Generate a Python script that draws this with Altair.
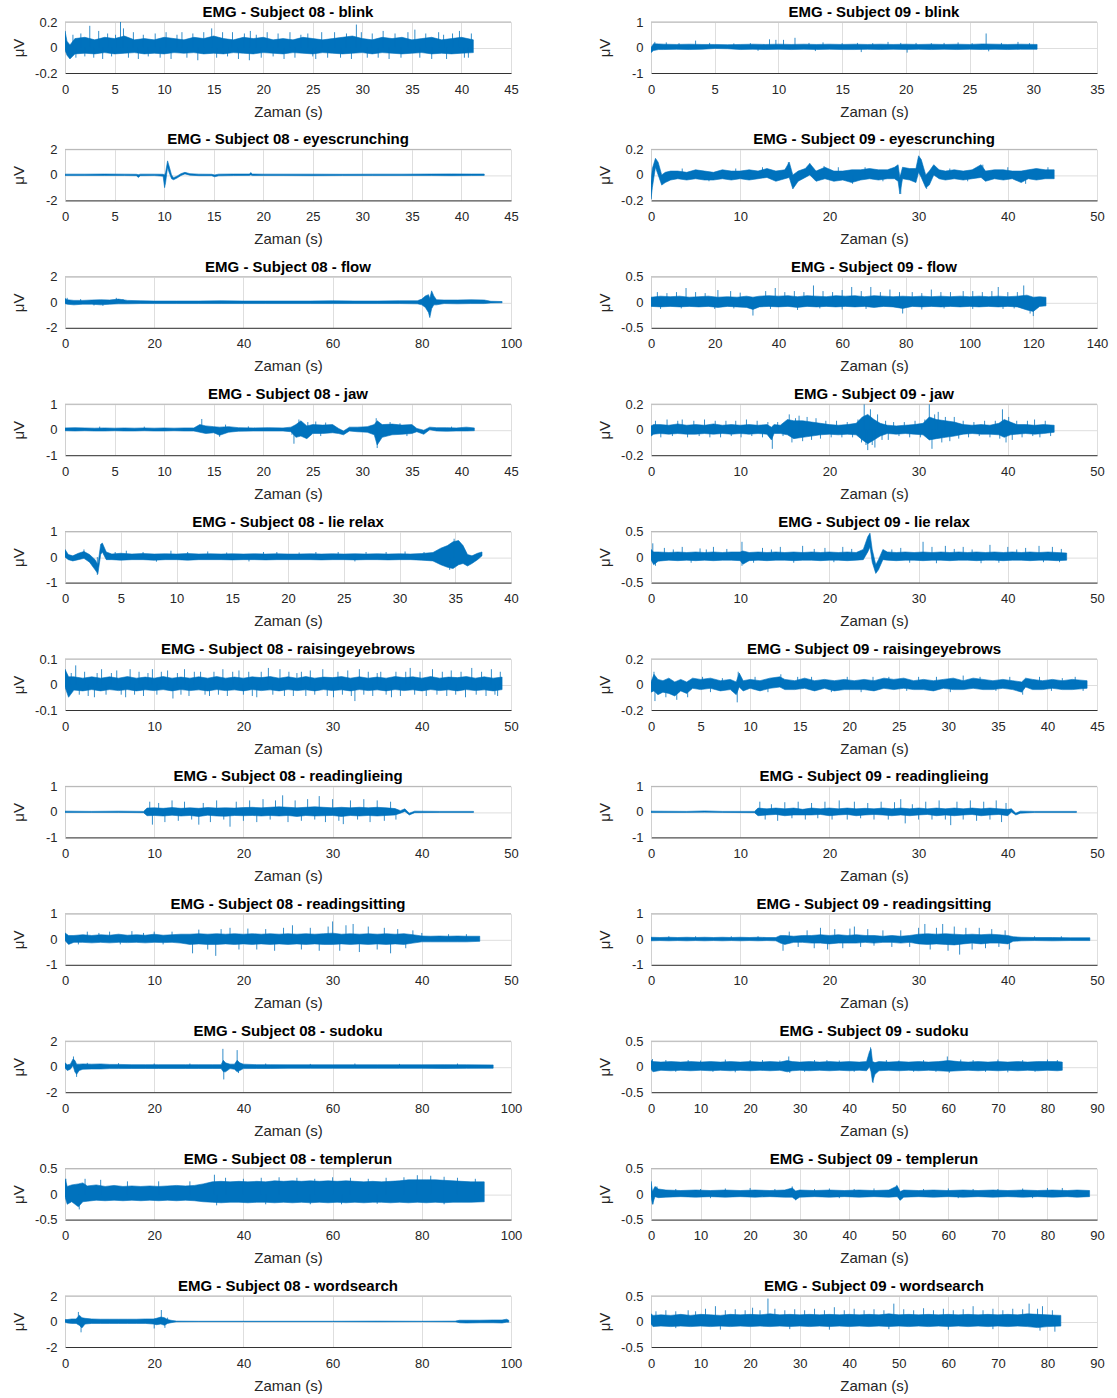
import altair as alt
import pandas as pd

BLUE = "#0072BD"
PLOT_W, PLOT_H = 446, 51

# Signal envelopes per recording: (time s, upper µV, lower µV)
# and isolated spikes: (time s, peak µV)

S08_BLINK = [(0, 0.13, -0.02), (0.2, 0.05, -0.06), (0.5, 0.02, -0.09), (1, 0.07, -0.05), (2, 0.08, -0.045),
             (3, 0.06, -0.05), (4, 0.08, -0.04), (5, 0.07, -0.05), (6, 0.09, -0.045), (7, 0.06, -0.04),
             (8, 0.07, -0.05), (9, 0.06, -0.045), (10, 0.08, -0.05), (11, 0.07, -0.04), (12, 0.06, -0.045),
             (13, 0.08, -0.04), (14, 0.07, -0.05), (15, 0.09, -0.045), (16, 0.07, -0.05), (17, 0.06, -0.04),
             (18, 0.08, -0.045), (19, 0.07, -0.05), (20, 0.08, -0.04), (21, 0.06, -0.045), (22, 0.07, -0.05),
             (23, 0.06, -0.04), (24, 0.08, -0.045), (25, 0.07, -0.05), (26, 0.06, -0.04), (27, 0.07, -0.045),
             (28, 0.08, -0.05), (29, 0.09, -0.045), (30, 0.07, -0.04), (31, 0.06, -0.05), (32, 0.08, -0.04),
             (33, 0.07, -0.045), (34, 0.08, -0.05), (35, 0.06, -0.045), (36, 0.07, -0.04), (37, 0.08, -0.05),
             (38, 0.06, -0.045), (39, 0.07, -0.05), (40, 0.08, -0.045), (41.2, 0.06, -0.04)]
S08_BLINK_SPIKES = [(0.8, 0.1), (1.1, -0.08), (1.6, 0.11), (2.0, -0.07), (2.5, 0.17), (2.9, -0.08), (3.4, 0.13),
                    (3.8, -0.09), (4.3, 0.11), (4.7, -0.07), (5.1, 0.1), (5.6, 0.2), (5.9, 0.15), (6.4, -0.08),
                    (6.9, 0.12), (7.4, -0.09), (7.9, 0.1), (8.4, -0.07), (9.1, 0.11), (9.6, -0.08), (10.2, 0.12),
                    (10.7, -0.09), (11.3, 0.1), (11.8, 0.12), (12.3, -0.08), (12.9, 0.11), (13.4, -0.1),
                    (14.0, 0.12), (14.8, 0.15), (15.3, -0.08), (15.9, 0.12), (16.4, -0.07), (16.9, 0.12),
                    (17.5, -0.09), (18.1, 0.11), (18.6, -0.1), (18.7, 0.13), (19.3, 0.1), (19.8, -0.08),
                    (20.4, 0.12), (21.0, -0.07), (21.5, 0.11), (22.1, -0.09), (22.7, 0.12), (23.2, -0.08),
                    (23.8, 0.1), (24.5, 0.11), (25.0, -0.07), (25.3, -0.09), (25.9, 0.12), (26.5, -0.08),
                    (27.2, 0.12), (27.8, -0.08), (28.4, 0.11), (28.9, -0.09), (29.4, 0.18), (29.9, 0.12),
                    (30.5, -0.08), (31.0, 0.11), (31.6, -0.08), (32.1, 0.13), (32.7, -0.09), (33.3, 0.11),
                    (33.9, -0.08), (34.6, 0.12), (35.3, 0.14), (35.8, -0.08), (36.4, 0.11), (37.0, -0.09),
                    (37.7, 0.12), (38.2, 0.1), (38.5, -0.09), (39.1, 0.11), (39.8, 0.13), (40.3, -0.08),
                    (40.7, -0.08), (41.0, 0.11)]

S09_BLINK = [(0, 0.0, -0.2), (0.2, 0.15, -0.12), (0.6, 0.14, -0.08), (1, 0.13, -0.08), (2, 0.12, -0.07),
             (3, 0.13, -0.08), (4, 0.12, -0.07), (5, 0.12, -0.04), (6, 0.11, -0.05), (7, 0.12, -0.08),
             (8, 0.13, -0.07), (9, 0.12, -0.08), (10, 0.13, -0.07), (11, 0.12, -0.08), (12, 0.13, -0.07),
             (13, 0.12, -0.08), (14, 0.13, -0.07), (15, 0.12, -0.08), (16, 0.13, -0.08), (17, 0.12, -0.07),
             (18, 0.13, -0.08), (19, 0.12, -0.07), (20, 0.13, -0.08), (21, 0.12, -0.07), (22, 0.13, -0.08),
             (23, 0.12, -0.07), (24, 0.13, -0.08), (25, 0.12, -0.07), (26, 0.14, -0.08), (27, 0.13, -0.07),
             (28, 0.12, -0.08), (29, 0.13, -0.07), (30.3, 0.12, -0.07)]
S09_BLINK_SPIKES = [(0.3, 0.22), (1.2, 0.2), (2.2, 0.17), (3.5, 0.27), (4.6, 0.18), (6.5, 0.16), (7.8, 0.17),
                    (9.3, 0.32), (9.8, 0.3), (10.4, 0.3), (11.3, 0.38), (12.4, 0.18), (13.5, 0.2), (15.0, 0.17),
                    (16.2, 0.18), (17.4, 0.17), (18.6, 0.22), (19.6, 0.18), (20.8, 0.18), (22.0, 0.17),
                    (23.0, 0.18), (24.1, 0.2), (25.2, 0.17), (26.3, 0.55), (27.5, 0.18), (28.8, 0.22),
                    (29.7, 0.17), (16.5, -0.18), (20.1, -0.2), (26.5, -0.15), (8.4, -0.13), (12.9, -0.14)]

S08_EYES = [(0, 0.06, -0.05), (2, 0.06, -0.05), (4, 0.07, -0.05), (6, 0.06, -0.05), (7.2, 0.05, -0.06),
            (7.4, 0.02, -0.2), (7.6, 0.06, -0.06), (9, 0.06, -0.05), (9.9, 0.05, -0.1), (10.05, 0.0, -1.0),
            (10.15, 0.2, -0.6), (10.35, 1.1, 0.6), (10.5, 0.7, 0.2), (10.75, 0.0, -0.3), (10.95, -0.22, -0.38),
            (11.3, -0.1, -0.25), (11.7, 0.1, -0.05), (12.1, 0.2, 0.08), (12.6, 0.1, -0.02), (13.5, 0.06, -0.06),
            (14.8, 0.05, -0.06), (15.1, 0.0, -0.15), (15.5, 0.06, -0.07), (17, 0.07, -0.05), (18.6, 0.07, -0.04),
            (18.75, 0.18, 0.0), (18.9, 0.07, -0.05), (20, 0.06, -0.05), (22, 0.06, -0.05), (25, 0.06, -0.06),
            (28, 0.05, -0.05), (31, 0.06, -0.05), (34, 0.06, -0.05), (37, 0.07, -0.05), (39, 0.08, -0.06),
            (41, 0.07, -0.05), (42.3, 0.07, -0.04)]
S08_EYES_SPIKES = []

S09_EYES = [(0, -0.05, -0.19), (0.15, 0.05, -0.1), (0.5, 0.13, 0.06), (0.8, 0.1, 0.0), (1.2, 0.0, -0.08),
            (1.6, 0.02, -0.06), (2.2, 0.03, -0.04), (3, 0.03, -0.03), (4, 0.02, -0.04), (5, 0.04, -0.03),
            (6, 0.03, -0.04), (7, 0.02, -0.04), (8, 0.04, -0.03), (9, 0.03, -0.04), (10, 0.03, -0.03),
            (11, 0.04, -0.04), (12, 0.03, -0.03), (13, 0.05, -0.02), (14, 0.03, -0.05), (15, 0.04, -0.03),
            (15.5, 0.1, -0.02), (15.9, 0.0, -0.11), (16.5, 0.03, -0.05), (17.3, 0.05, -0.02), (17.8, 0.09, 0.0),
            (18.5, 0.03, -0.05), (19.5, 0.06, -0.03), (20.5, 0.03, -0.05), (21.5, 0.03, -0.04), (22.5, 0.04, -0.06),
            (23.5, 0.04, -0.04), (24.5, 0.05, -0.03), (25.5, 0.04, -0.04), (26.5, 0.04, -0.03), (27.3, 0.06, -0.03),
            (27.7, 0.08, -0.05), (27.9, -0.02, -0.15), (28.2, 0.06, -0.03), (29, 0.05, -0.04), (29.7, 0.05, -0.06),
            (30.0, 0.15, 0.02), (30.3, 0.12, -0.02), (30.8, 0.0, -0.1), (31.2, 0.03, -0.08), (31.7, 0.08, 0.0),
            (32.3, 0.04, -0.03), (33, 0.03, -0.04), (34, 0.04, -0.03), (35, 0.03, -0.04), (36, 0.04, -0.03),
            (37, 0.08, -0.02), (37.5, 0.03, -0.05), (38.5, 0.04, -0.03), (39.5, 0.04, -0.04), (40.5, 0.03, -0.03),
            (41.5, 0.03, -0.06), (42.3, 0.04, -0.03), (43.2, 0.05, -0.04), (44.2, 0.04, -0.03), (45.2, 0.04, -0.03)]
S09_EYES_SPIKES = [(15.4, 0.1), (17.8, 0.09), (22.6, -0.07), (37.2, 0.08), (42, -0.07), (19.4, 0.07),
                   (28.0, -0.15), (30.9, -0.11), (3.5, 0.05), (6.5, -0.05), (9.5, 0.05), (12.5, 0.06),
                   (21.0, 0.06), (24.0, 0.06), (26.0, -0.05), (33.5, 0.05), (35.5, -0.05), (40.0, 0.06),
                   (44.5, 0.06)]

S08_FLOW = [(0, 0.3, -0.1), (0.5, 0.2, -0.15), (2, 0.15, -0.2), (4, 0.15, -0.15), (6, 0.18, -0.15), (8, 0.2, -0.2),
            (10, 0.18, -0.15), (12, 0.25, -0.12), (14, 0.15, -0.12), (17, 0.12, -0.1), (20, 0.1, -0.1),
            (25, 0.1, -0.1), (30, 0.1, -0.1), (35, 0.12, -0.1), (40, 0.1, -0.1), (45, 0.1, -0.1), (50, 0.1, -0.1),
            (55, 0.1, -0.1), (60, 0.12, -0.1), (65, 0.1, -0.1), (70, 0.1, -0.1), (75, 0.12, -0.1), (79, 0.12, -0.12),
            (80, 0.25, -0.2), (80.8, 0.5, -0.4), (81.5, 0.6, -0.8), (81.8, 0.3, -1.2), (82.2, 0.9, -0.5),
            (82.7, 0.5, -0.2), (83.3, 0.2, -0.2), (85, 0.18, -0.1), (88, 0.18, -0.12), (91, 0.2, -0.1),
            (94, 0.18, -0.1), (95.5, 0.08, -0.05), (98, 0.06, -0.04)]
S08_FLOW_SPIKES = [(0.5, 0.35), (11.5, 0.35), (8.5, -0.28), (3.5, 0.25), (6.5, -0.25), (13.0, 0.25)]

S09_FLOW = [(0, 0.1, -0.08), (3, 0.12, -0.09), (6, 0.11, -0.08), (9, 0.12, -0.09), (12, 0.1, -0.08),
            (15, 0.11, -0.09), (18, 0.12, -0.08), (21, 0.1, -0.1), (24, 0.11, -0.08), (27, 0.1, -0.09),
            (30, 0.12, -0.1), (32, 0.1, -0.14), (34, 0.12, -0.09), (37, 0.13, -0.08), (40, 0.12, -0.09),
            (43, 0.13, -0.08), (46, 0.11, -0.1), (49, 0.13, -0.08), (52, 0.12, -0.09), (55, 0.11, -0.08),
            (58, 0.13, -0.09), (61, 0.12, -0.08), (64, 0.13, -0.09), (67, 0.11, -0.08), (70, 0.13, -0.1),
            (73, 0.12, -0.08), (76, 0.11, -0.09), (79, 0.12, -0.12), (82, 0.11, -0.08), (85, 0.12, -0.09),
            (88, 0.11, -0.08), (91, 0.12, -0.09), (94, 0.11, -0.08), (97, 0.12, -0.09), (100, 0.11, -0.08),
            (103, 0.12, -0.09), (106, 0.11, -0.08), (109, 0.12, -0.09), (112, 0.11, -0.08), (115, 0.12, -0.09),
            (118, 0.14, -0.15), (120, 0.1, -0.18), (122, 0.11, -0.08), (124, 0.1, -0.07)]
S09_FLOW_SPIKES = [(2, 0.2), (5, 0.18), (8, 0.2), (11, 0.28), (14, 0.2), (17, 0.18), (21, 0.24), (25, 0.22),
                   (28, 0.19), (32, -0.26), (36, 0.22), (39, 0.28), (42, 0.2), (45, 0.22), (48, 0.2), (51, 0.33),
                   (54, 0.22), (57, 0.2), (60, 0.24), (63, 0.3), (66, 0.22), (69, 0.3), (72, 0.2), (75, 0.25),
                   (78, 0.2), (79, -0.22), (82, 0.2), (85, 0.18), (88, 0.25), (91, 0.2), (94, 0.2), (98, 0.22),
                   (101, 0.22), (104, 0.2), (107, 0.22), (109, 0.3), (112, 0.2), (115, 0.2), (117, 0.33),
                   (119, -0.22), (120, -0.27), (3, -0.13), (46, -0.15), (60, -0.14), (85, -0.14), (101, -0.13),
                   (20, -0.13), (9.5, -0.12), (26, -0.12), (37.5, -0.13), (53, -0.12), (67.5, -0.13), (92, -0.12),
                   (110.5, -0.13), (114, -0.12)]

S08_JAW = [(0, 0.07, -0.04), (1, 0.08, -0.05), (2, 0.07, -0.04), (3, 0.06, -0.05), (4, 0.07, -0.05), (5, 0.06, -0.04),
           (6, 0.07, -0.05), (7, 0.06, -0.05), (8, 0.07, -0.04), (9, 0.06, -0.05), (10, 0.07, -0.05),
           (11, 0.06, -0.04), (12, 0.07, -0.05), (13, 0.07, -0.05), (13.6, 0.2, -0.1), (14.2, 0.15, -0.15),
           (15, 0.12, -0.12), (15.6, 0.1, -0.22), (16.5, 0.12, -0.1), (17.5, 0.08, -0.06), (19, 0.07, -0.05),
           (20.5, 0.08, -0.05), (22, 0.07, -0.05), (22.8, 0.1, -0.08), (23.3, 0.2, -0.3), (23.8, 0.35, -0.25),
           (24.4, 0.15, -0.35), (25, 0.2, -0.15), (26, 0.18, -0.15), (27, 0.2, -0.12), (27.6, 0.05, -0.15),
           (28.1, -0.05, -0.2), (28.7, 0.1, -0.05), (29.5, 0.1, -0.08), (30.5, 0.12, -0.1), (31.2, 0.2, -0.2),
           (31.5, 0.35, -0.6), (32, 0.2, -0.3), (33, 0.22, -0.2), (34, 0.18, -0.18), (35, 0.2, -0.15),
           (35.5, 0.05, -0.08), (36.2, -0.02, -0.18), (36.8, 0.1, 0.0), (37.5, 0.08, -0.05), (38.5, 0.08, -0.06),
           (39.5, 0.07, -0.05), (40.5, 0.1, -0.05), (41.3, 0.07, -0.04)]
S08_JAW_SPIKES = [(13.8, 0.42), (15.6, -0.28), (23.1, -0.55), (23.6, 0.4), (24.5, 0.3), (25.3, 0.32), (31.4, 0.45),
                  (31.5, -0.72), (33.8, 0.25), (22.9, -0.2), (16.2, 0.2), (26.3, 0.28), (25.8, -0.25),
                  (32.8, 0.3), (34.5, -0.25), (3.5, 0.12), (8.0, 0.12), (18.5, 0.13), (39.0, 0.12)]

S09_JAW = [(0, 0.03, -0.05), (0.3, 0.04, -0.035), (1, 0.04, -0.03), (2, 0.035, -0.035), (3, 0.045, -0.03),
           (4, 0.035, -0.035), (5, 0.04, -0.035), (6, 0.035, -0.03), (7, 0.045, -0.035), (8, 0.035, -0.03),
           (9, 0.04, -0.035), (10, 0.035, -0.03), (11, 0.04, -0.035), (12, 0.035, -0.03), (13, 0.04, -0.035),
           (13.5, 0.02, -0.08), (13.8, 0.04, -0.03), (14.5, 0.035, -0.03), (15.3, 0.08, -0.04), (16, 0.07, -0.07),
           (17, 0.07, -0.06), (18, 0.06, -0.05), (19, 0.05, -0.04), (20, 0.04, -0.035), (21, 0.035, -0.04),
           (22, 0.04, -0.035), (23, 0.05, -0.04), (23.7, 0.1, -0.08), (24.3, 0.12, -0.11), (25, 0.08, -0.08),
           (25.7, 0.05, -0.05), (26.5, 0.035, -0.03), (27.5, 0.03, -0.035), (28.5, 0.035, -0.03),
           (29.5, 0.04, -0.035), (30.5, 0.05, -0.04), (31.2, 0.1, -0.08), (32, 0.08, -0.07), (33, 0.07, -0.06),
           (34, 0.06, -0.05), (35, 0.04, -0.035), (36, 0.035, -0.03), (37, 0.04, -0.035), (38, 0.035, -0.035),
           (39, 0.05, -0.04), (39.6, 0.08, -0.06), (40.3, 0.06, -0.04), (41, 0.04, -0.035), (42, 0.04, -0.03),
           (43, 0.035, -0.035), (44, 0.04, -0.03), (45.2, 0.035, -0.02)]
S09_JAW_SPIKES = [(0.5, 0.07), (1.1, -0.06), (1.8, 0.08), (2.4, -0.05), (3.0, 0.07), (3.5, 0.08), (4.1, -0.06),
                  (4.8, 0.07), (5.4, -0.05), (6.0, 0.08), (6.6, -0.06), (7.2, 0.07), (7.8, -0.06), (8.4, 0.07),
                  (9.0, -0.05), (9.5, 0.07), (10.1, -0.06), (10.7, 0.08), (11.3, -0.05), (11.9, 0.07),
                  (12.5, -0.06), (13.1, 0.06), (13.6, -0.15), (14.2, 0.06), (14.8, -0.05), (15.5, 0.12),
                  (15.8, -0.1), (16.2, 0.09), (16.6, 0.11), (17.0, -0.09), (17.5, 0.1), (18.0, -0.08), (18.5, 0.09),
                  (19.0, -0.07), (19.6, 0.07), (20.2, -0.06), (20.8, 0.07), (21.4, -0.06), (22.0, 0.06),
                  (22.6, -0.06), (23.2, 0.08), (23.6, -0.1), (23.9, 0.2), (24.1, -0.12), (24.3, -0.16),
                  (24.6, 0.16), (24.8, -0.12), (25.1, -0.14), (25.4, 0.12), (25.9, -0.08), (26.3, 0.07),
                  (26.6, -0.08), (27.2, 0.06), (27.8, -0.05), (28.4, 0.06), (29.0, -0.06), (29.6, 0.07),
                  (30.2, -0.06), (30.7, 0.08), (31.2, 0.2), (31.5, -0.15), (31.8, 0.12), (32.2, 0.14),
                  (32.6, -0.1), (33.0, 0.1), (33.5, -0.09), (34.0, 0.1), (34.5, -0.07), (35.0, 0.07),
                  (35.6, -0.06), (36.2, 0.06), (36.8, -0.05), (37.4, 0.07), (38.0, -0.06), (38.6, 0.07),
                  (39.1, -0.07), (39.4, 0.16), (39.8, -0.1), (40.1, 0.1), (40.5, -0.08), (41.0, 0.07),
                  (41.6, -0.06), (42.2, 0.07), (42.8, -0.05), (43.0, 0.08), (43.6, -0.06), (44.2, 0.07),
                  (44.8, -0.05)]

S08_LIE = [(0, 0.3, 0.0), (0.3, 0.1, -0.1), (0.7, 0.05, -0.15), (1.2, 0.15, -0.1), (1.7, 0.22, -0.05),
           (2.2, 0.1, -0.2), (2.7, -0.1, -0.5), (2.95, -0.3, -0.65), (3.2, 0.5, 0.1), (3.35, 0.55, 0.2),
           (3.7, 0.2, -0.1), (4.2, 0.12, -0.1), (5, 0.15, -0.12), (6, 0.12, -0.1), (7, 0.14, -0.1), (8, 0.12, -0.12),
           (9, 0.13, -0.1), (10, 0.12, -0.1), (11, 0.14, -0.12), (12, 0.12, -0.1), (13, 0.13, -0.1),
           (14, 0.12, -0.1), (15, 0.13, -0.11), (16, 0.12, -0.1), (17, 0.13, -0.1), (18, 0.12, -0.11),
           (19, 0.13, -0.1), (20, 0.12, -0.1), (21, 0.12, -0.1), (22, 0.13, -0.1), (23, 0.12, -0.11),
           (24, 0.13, -0.1), (25, 0.12, -0.1), (26, 0.13, -0.11), (27, 0.12, -0.1), (28, 0.13, -0.1),
           (29, 0.12, -0.11), (30, 0.13, -0.1), (31, 0.12, -0.1), (32, 0.14, -0.12), (33, 0.18, -0.15),
           (33.7, 0.35, -0.3), (34.3, 0.45, -0.4), (34.8, 0.6, -0.45), (35.3, 0.65, -0.3), (35.7, 0.45, -0.25),
           (36.1, 0.1, -0.35), (36.5, 0.05, -0.25), (37, 0.15, -0.1), (37.4, 0.2, 0.05)]
S08_LIE_SPIKES = [(5.5, 0.25), (9.5, 0.25), (12.8, 0.22), (19, 0.2), (22.5, 0.2), (27, 0.2), (30.5, 0.22), (1.7, 0.3),
                  (34.9, 0.72), (34.5, -0.5), (2.9, -0.7), (4.5, 0.2), (7.0, 0.2), (8.2, -0.18), (11.0, 0.2),
                  (14.5, 0.18), (16.5, -0.17), (17.8, 0.2), (21.0, 0.18), (24.5, 0.2), (26.0, -0.17), (28.8, 0.2),
                  (32.2, 0.2)]

S09_LIE = [(0, 0.15, -0.05), (0.3, 0.1, -0.15), (0.8, 0.1, -0.08), (2, 0.09, -0.06), (3, 0.1, -0.07), (4, 0.09, -0.06),
           (5, 0.1, -0.07), (6, 0.09, -0.06), (7, 0.1, -0.07), (8, 0.09, -0.06), (9, 0.1, -0.06), (10, 0.1, -0.07),
           (10.3, 0.12, -0.14), (11, 0.09, -0.07), (12, 0.1, -0.06), (13, 0.09, -0.07), (14, 0.1, -0.06),
           (15, 0.09, -0.06), (16, 0.1, -0.07), (17, 0.09, -0.06), (18, 0.1, -0.06), (19, 0.09, -0.07),
           (20, 0.1, -0.06), (21, 0.09, -0.06), (22, 0.1, -0.07), (23, 0.09, -0.06), (23.8, 0.15, -0.05),
           (24.3, 0.4, 0.1), (24.55, 0.47, 0.2), (24.8, 0.15, -0.1), (25.2, -0.15, -0.32), (25.5, -0.05, -0.25),
           (26, 0.15, -0.05), (26.5, 0.1, -0.06), (27.5, 0.09, -0.07), (28.5, 0.1, -0.06), (29.5, 0.09, -0.06),
           (30.5, 0.1, -0.07), (31.5, 0.09, -0.06), (32.5, 0.1, -0.06), (33.5, 0.09, -0.07), (34.5, 0.1, -0.06),
           (35.5, 0.09, -0.06), (36.5, 0.1, -0.07), (37.5, 0.09, -0.06), (38.5, 0.1, -0.06), (39.5, 0.09, -0.07),
           (40.5, 0.1, -0.06), (41.5, 0.09, -0.06), (42.5, 0.1, -0.07), (43.5, 0.09, -0.06), (44.5, 0.1, -0.06),
           (45.5, 0.09, -0.07), (46.6, 0.08, -0.06)]
S09_LIE_SPIKES = [(0.2, 0.27), (1.5, 0.18), (3.5, 0.2), (5.5, 0.17), (7, 0.2), (10.2, 0.3), (12.5, 0.18), (14.5, 0.2),
                  (17, 0.22), (19.5, 0.18), (21.5, 0.2), (28, 0.18), (30.5, 0.3), (31.5, 0.2), (33, 0.22), (35, 0.2),
                  (38, 0.24), (40, 0.2), (42, 0.18), (43.5, 0.22), (45, 0.2), (0.5, -0.17), (10.2, -0.17),
                  (32, -0.12), (37, -0.12), (45.8, -0.1), (2.5, 0.15), (4.5, -0.11), (6.2, 0.15), (8.5, 0.16),
                  (11.5, -0.11), (13.5, 0.15), (16, -0.11), (18.3, 0.16), (20.5, -0.1), (22.5, 0.16), (27, 0.15),
                  (29, -0.11), (34, 0.16), (36, 0.15), (39, -0.11), (41, 0.15), (44, -0.1), (46, 0.16)]

S08_BROWS = [(0, 0.06, -0.01), (0.4, 0.03, -0.05), (1, 0.03, -0.022), (2, 0.025, -0.025), (3, 0.03, -0.02),
             (4, 0.025, -0.025), (5, 0.03, -0.02), (6, 0.025, -0.024), (7, 0.031, -0.02), (8, 0.025, -0.025),
             (9, 0.029, -0.021), (10, 0.025, -0.024), (11, 0.031, -0.02), (12, 0.025, -0.025), (13, 0.029, -0.02),
             (14, 0.025, -0.024), (15, 0.03, -0.021), (16, 0.025, -0.025), (17, 0.031, -0.02), (18, 0.025, -0.024),
             (19, 0.029, -0.021), (20, 0.025, -0.025), (21, 0.03, -0.02), (22, 0.027, -0.024), (23, 0.031, -0.021),
             (24, 0.025, -0.025), (25, 0.03, -0.02), (26, 0.025, -0.024), (27, 0.031, -0.021), (28, 0.025, -0.025),
             (29, 0.029, -0.02), (30, 0.027, -0.024), (31, 0.031, -0.021), (32, 0.025, -0.025), (33, 0.03, -0.02),
             (34, 0.025, -0.024), (35, 0.029, -0.021), (36, 0.025, -0.025), (37, 0.031, -0.02), (38, 0.027, -0.024),
             (39, 0.03, -0.021), (40, 0.025, -0.025), (41, 0.031, -0.02), (42, 0.025, -0.024), (43, 0.029, -0.021),
             (44, 0.027, -0.025), (45, 0.031, -0.02), (46, 0.025, -0.024), (47, 0.03, -0.021), (48, 0.025, -0.025),
             (49, 0.029, -0.02)]
S08_BROWS_SPIKES = [(0.7, 0.045), (1.2, 0.075), (1.6, -0.04), (2.2, 0.05), (2.6, -0.045), (3.3, -0.05),
                    (3.6, 0.045), (4.1, 0.06), (4.6, -0.04), (5.2, 0.045), (5.8, 0.055), (6.3, -0.04),
                    (6.8, -0.05), (7.3, 0.06), (7.8, -0.04), (8.3, 0.05), (8.8, -0.045), (9.3, 0.045),
                    (9.8, 0.06), (10.3, -0.04), (10.8, 0.05), (11.5, 0.055), (12.1, -0.055), (12.6, 0.045),
                    (13.0, -0.04), (13.4, 0.06), (13.9, -0.045), (14.5, 0.05), (15.2, 0.05), (15.7, -0.04),
                    (16.2, -0.045), (16.7, 0.05), (17.2, -0.04), (17.7, 0.06), (18.2, -0.045), (18.8, 0.05),
                    (19.5, 0.055), (20.0, -0.04), (20.6, 0.05), (21.0, -0.045), (21.5, -0.05), (22.0, 0.05),
                    (22.8, 0.065), (23.3, -0.04), (24.1, 0.06), (24.6, -0.045), (25.1, 0.05), (25.6, -0.045),
                    (26.0, 0.045), (26.5, 0.05), (27.0, -0.045), (27.5, 0.055), (28.0, -0.04), (28.9, 0.06),
                    (29.4, -0.045), (30.1, -0.05), (30.6, 0.05), (31.1, -0.04), (31.7, 0.055), (32.1, -0.045),
                    (32.5, -0.065), (33.0, 0.06), (33.5, -0.04), (34.0, 0.05), (34.5, -0.045), (35.0, 0.045),
                    (35.4, 0.05), (36.0, -0.04), (36.6, -0.05), (37.1, 0.05), (37.6, -0.045), (38.2, 0.05),
                    (38.7, 0.065), (39.2, -0.04), (39.8, 0.05), (40.5, -0.045), (41.2, 0.06), (41.7, -0.04),
                    (42.3, 0.05), (42.8, -0.045), (43.3, 0.055), (43.8, -0.04), (44.4, 0.05), (44.9, -0.05),
                    (45.6, 0.065), (46.1, -0.04), (46.7, 0.05), (47.2, -0.045), (47.8, 0.06), (48.2, -0.04),
                    (48.5, -0.045), (48.8, 0.05)]

S09_BROWS = [(0, 0.02, -0.06), (0.3, 0.08, -0.05), (0.7, 0.04, -0.08), (1.2, 0.03, -0.06), (1.8, 0.05, -0.07),
             (2.4, 0.02, -0.09), (3, 0.04, -0.05), (3.6, 0.02, -0.07), (4.2, 0.05, -0.03), (5, 0.04, -0.04),
             (6, 0.05, -0.03), (7, 0.03, -0.05), (8, 0.04, -0.04), (8.6, 0.02, -0.08), (8.9, 0.09, -0.02),
             (9.3, 0.03, -0.05), (10, 0.04, -0.03), (11, 0.03, -0.05), (12, 0.05, -0.03), (13, 0.06, -0.02),
             (13.5, 0.04, -0.04), (14.5, 0.03, -0.04), (15.5, 0.05, -0.03), (16.5, 0.03, -0.05), (17.5, 0.04, -0.03),
             (18.5, 0.03, -0.05), (19.5, 0.04, -0.04), (20.5, 0.03, -0.04), (21.5, 0.04, -0.04), (22.5, 0.03, -0.05),
             (23.5, 0.05, -0.03), (24.5, 0.04, -0.04), (25.5, 0.05, -0.03), (26.5, 0.03, -0.04), (27.5, 0.04, -0.04),
             (28.5, 0.03, -0.05), (29.5, 0.04, -0.03), (30.5, 0.05, -0.04), (31.5, 0.03, -0.04), (32.5, 0.05, -0.03),
             (33.5, 0.04, -0.04), (34.5, 0.03, -0.04), (35.5, 0.04, -0.03), (36.5, 0.03, -0.04), (37.4, 0.02, -0.06),
             (37.8, 0.05, -0.02), (38.5, 0.04, -0.04), (39.5, 0.03, -0.04), (40.5, 0.04, -0.03), (41.5, 0.03, -0.04),
             (42.5, 0.04, -0.04), (44, 0.03, -0.03)]
S09_BROWS_SPIKES = [(0.3, 0.1), (0.4, -0.13), (1.5, -0.1), (2.6, -0.12), (3.7, -0.1), (8.8, 0.1), (8.7, -0.14),
                    (13.1, 0.08), (16.2, 0.06), (24, 0.06), (27, 0.06), (31.5, 0.07), (37.5, -0.08), (41.5, 0.05),
                    (6, -0.06), (18.2, -0.06), (5.2, 0.06), (7.2, 0.05), (10.5, 0.06), (11.8, -0.06),
                    (14.8, 0.06), (19.8, 0.06), (21.2, -0.06), (22.4, 0.06), (25.8, -0.05), (28.8, 0.06),
                    (30.2, -0.06), (33.2, 0.06), (34.8, -0.05), (36.2, 0.06), (39.2, 0.06), (40.4, -0.05),
                    (42.8, 0.06), (43.6, -0.05)]

S08_READLIE = [(0, 0.03, -0.02), (3, 0.02, -0.02), (6, 0.03, -0.02), (8.8, 0.02, -0.03), (9.2, 0.15, -0.15),
               (10, 0.16, -0.14), (11, 0.14, -0.16), (12, 0.17, -0.13), (13, 0.14, -0.16), (14, 0.16, -0.14),
               (15, 0.14, -0.18), (16, 0.17, -0.13), (17, 0.15, -0.16), (18, 0.16, -0.17), (19, 0.15, -0.14),
               (20, 0.17, -0.15), (21, 0.18, -0.14), (22, 0.16, -0.16), (23, 0.18, -0.14), (24, 0.2, -0.16),
               (25, 0.18, -0.14), (26, 0.16, -0.18), (27, 0.18, -0.14), (28, 0.2, -0.16), (29, 0.18, -0.15),
               (30, 0.16, -0.14), (31, 0.18, -0.18), (32, 0.16, -0.14), (33, 0.18, -0.16), (34, 0.16, -0.14),
               (35, 0.18, -0.16), (36, 0.16, -0.14), (37, 0.13, -0.12), (37.6, 0.05, -0.05), (38.1, 0.12, 0.02),
               (38.6, -0.05, -0.12), (39.2, 0.03, -0.03), (42, 0.02, -0.02), (45.8, 0.02, -0.02)]
S08_READLIE_SPIKES = [(9.5, 0.4), (9.8, -0.5), (10.5, 0.35), (11.2, -0.4), (12, 0.45), (12.7, -0.35), (13.4, 0.4),
                      (14.2, -0.3), (15, -0.5), (15.5, 0.35), (16.3, -0.4), (17, 0.45), (17.8, -0.3), (18.5, -0.58),
                      (19.2, 0.4), (20, -0.35), (20.7, 0.45), (21.5, -0.4), (22.2, 0.5), (23, -0.3), (23.6, 0.45),
                      (24.4, 0.65), (25, -0.4), (25.8, 0.45), (26.5, -0.35), (27.2, 0.5), (28, -0.3), (28.5, 0.62),
                      (29.2, -0.4), (30, 0.5), (30.7, -0.35), (31.2, -0.48), (32, 0.45), (32.8, -0.3), (33.5, 0.5),
                      (34.2, -0.4), (35, 0.45), (35.8, -0.35), (36.5, 0.4), (37.1, -0.3)]

S09_READLIE = [(0, 0.03, -0.02), (4, 0.02, -0.02), (6, 0.04, -0.01), (8, 0.02, -0.02), (11.6, 0.02, -0.03),
               (12, 0.15, -0.15), (13, 0.12, -0.12), (14, 0.15, -0.1), (15, 0.12, -0.15), (16, 0.15, -0.12),
               (17, 0.1, -0.12), (18, 0.15, -0.12), (19, 0.12, -0.1), (20, 0.15, -0.15), (21, 0.12, -0.12),
               (22, 0.15, -0.1), (23, 0.12, -0.15), (24, 0.14, -0.12), (25, 0.12, -0.1), (26, 0.15, -0.12),
               (27, 0.12, -0.15), (28, 0.15, -0.12), (29, 0.12, -0.15), (30, 0.15, -0.12), (31, 0.12, -0.1),
               (32, 0.15, -0.15), (33, 0.12, -0.12), (34, 0.15, -0.15), (35, 0.12, -0.12), (36, 0.15, -0.1),
               (37, 0.12, -0.15), (38, 0.15, -0.12), (39, 0.12, -0.1), (40, 0.1, -0.15), (40.4, 0.12, 0.0),
               (40.9, -0.05, -0.12), (41.4, 0.03, -0.05), (43, 0.02, -0.02), (47.7, 0.02, -0.02)]
S09_READLIE_SPIKES = [(12.2, 0.4), (12.8, -0.3), (13.5, 0.3), (14.2, -0.35), (15, 0.38), (15.8, -0.25), (16.5, 0.4),
                      (17.3, -0.3), (18, 0.35), (18.7, -0.25), (19.5, 0.4), (20.3, -0.3), (21.1, 0.45), (22, -0.3),
                      (22.8, 0.4), (23.5, -0.25), (24.3, 0.35), (25, -0.3), (25.8, 0.4), (26.6, -0.3), (27.3, 0.38),
                      (28, 0.5), (28.5, -0.45), (29.3, 0.3), (30, -0.3), (30.8, 0.4), (31.5, -0.3), (32.3, 0.45),
                      (33, -0.3), (33.6, -0.52), (34.3, 0.4), (35, -0.3), (35.8, 0.45), (36.5, -0.35), (37.3, 0.4),
                      (38, -0.3), (38.7, 0.45), (39.3, -0.4), (39.8, 0.35)]

S08_READSIT = [(0, 0.25, -0.05), (0.4, 0.15, -0.2), (1, 0.15, -0.12), (2, 0.18, -0.12), (3, 0.15, -0.14),
               (4, 0.18, -0.12), (5, 0.16, -0.14), (6, 0.2, -0.12), (7, 0.16, -0.13), (8, 0.18, -0.12),
               (9, 0.16, -0.14), (10, 0.2, -0.12), (11, 0.16, -0.13), (12, 0.18, -0.12), (13, 0.2, -0.15),
               (14, 0.2, -0.2), (15, 0.22, -0.18), (16, 0.2, -0.2), (17, 0.22, -0.2), (18, 0.2, -0.18),
               (19, 0.22, -0.2), (20, 0.2, -0.18), (21, 0.22, -0.2), (22, 0.2, -0.18), (23, 0.22, -0.2),
               (24, 0.2, -0.18), (25, 0.22, -0.2), (26, 0.2, -0.18), (27, 0.22, -0.2), (28, 0.2, -0.18),
               (29, 0.22, -0.2), (30, 0.24, -0.2), (31, 0.2, -0.18), (32, 0.22, -0.2), (33, 0.2, -0.18),
               (34, 0.22, -0.2), (35, 0.2, -0.18), (36, 0.22, -0.2), (37, 0.2, -0.18), (38, 0.22, -0.2),
               (39, 0.18, -0.15), (40, 0.13, -0.1), (41, 0.12, -0.1), (42, 0.13, -0.1), (43, 0.12, -0.1),
               (44, 0.13, -0.1), (45, 0.12, -0.1), (46.5, 0.12, -0.08)]
S08_READSIT_SPIKES = [(2.5, 0.3), (5, 0.3), (7.5, 0.32), (10, 0.3), (12, 0.3), (14.3, -0.55), (15, 0.38), (16, -0.4),
                      (16.9, -0.65), (17.5, 0.4), (18.5, 0.45), (19.5, -0.4), (20.5, 0.42), (21.5, -0.4), (22.5, 0.4),
                      (23.5, -0.45), (24.5, 0.45), (25.5, 0.55), (26.5, -0.4), (27.5, 0.45), (28.5, -0.45),
                      (29.5, 0.5), (30, 0.7), (30.8, -0.45), (31.5, 0.55), (32.3, 0.6), (33, -0.5), (34, 0.5),
                      (35, -0.4), (35.8, 0.45), (36.5, -0.55), (37.3, 0.4), (38.2, -0.35), (39, 0.35), (40, 0.25),
                      (43, 0.2), (45, 0.2), (1.5, -0.2), (3.8, 0.25), (6.2, -0.2), (8.8, 0.25), (11.0, -0.2)]

S09_READSIT = [(0, 0.08, -0.06), (1, 0.07, -0.05), (2, 0.08, -0.06), (3, 0.07, -0.05), (4, 0.08, -0.06),
               (5, 0.07, -0.05), (6, 0.08, -0.06), (7, 0.07, -0.05), (8, 0.08, -0.06), (9, 0.07, -0.05),
               (10, 0.08, -0.06), (11, 0.07, -0.05), (12, 0.08, -0.06), (13, 0.07, -0.05), (14, 0.07, -0.06),
               (14.5, 0.15, -0.15), (15, 0.15, -0.2), (16, 0.12, -0.12), (17, 0.15, -0.12), (18, 0.15, -0.15),
               (19, 0.18, -0.15), (20, 0.15, -0.18), (21, 0.18, -0.15), (22, 0.15, -0.15), (23, 0.18, -0.15),
               (24, 0.15, -0.12), (25, 0.15, -0.15), (26, 0.12, -0.12), (27, 0.15, -0.12), (28, 0.12, -0.15),
               (29, 0.15, -0.12), (30, 0.2, -0.18), (31, 0.22, -0.2), (32, 0.2, -0.18), (33, 0.22, -0.2),
               (34, 0.2, -0.22), (35, 0.18, -0.18), (36, 0.2, -0.15), (37, 0.18, -0.18), (38, 0.2, -0.15),
               (39, 0.18, -0.15), (40, 0.15, -0.18), (40.6, 0.1, -0.08), (41.5, 0.08, -0.06), (43, 0.07, -0.05),
               (45, 0.07, -0.06), (47, 0.06, -0.05), (49.2, 0.06, -0.05)]
S09_READSIT_SPIKES = [(2, 0.12), (5, 0.12), (9, 0.12), (12, 0.12), (14.8, -0.45), (15.5, 0.3), (16.5, -0.3),
                      (17.5, 0.35), (18.3, -0.35), (19, 0.45), (19.8, -0.4), (20.6, 0.4), (21.5, -0.35), (22.3, 0.42),
                      (22.8, 0.5), (23.5, -0.3), (24.3, 0.4), (25, -0.25), (26, 0.35), (27, -0.3), (28, 0.35),
                      (29, -0.3), (30, 0.45), (30.7, 0.6), (31.3, -0.4), (32, 0.45), (32.7, 0.6), (33.3, -0.45),
                      (34, 0.5), (34.6, -0.6), (35.3, 0.45), (36, -0.4), (36.8, 0.45), (37.5, -0.35), (38.2, 0.4),
                      (39, -0.3), (39.7, 0.35), (40.2, -0.4), (43, 0.12), (46, 0.12)]

S08_SUDOKU = [(0, 0.3, -0.1), (0.5, 0.15, -0.3), (1.2, 0.2, -0.2), (1.8, 0.6, 0.1), (2.2, 0.5, -0.4),
              (2.6, 0.2, -0.6), (3.2, 0.2, -0.3), (4, 0.22, -0.2), (6, 0.2, -0.18), (8, 0.22, -0.18),
              (10, 0.18, -0.15), (12, 0.18, -0.15), (15, 0.16, -0.14), (18, 0.16, -0.14), (21, 0.16, -0.14),
              (24, 0.16, -0.14), (27, 0.16, -0.14), (30, 0.16, -0.14), (33, 0.16, -0.14), (35, 0.16, -0.14),
              (35.5, 0.5, -0.4), (36, 0.3, -0.4), (37, 0.2, -0.15), (38, 0.2, -0.2), (38.6, 0.5, -0.4),
              (39.2, 0.3, -0.3), (40, 0.2, -0.15), (43, 0.16, -0.14), (46, 0.16, -0.14), (50, 0.15, -0.13),
              (55, 0.15, -0.13), (60, 0.15, -0.13), (65, 0.15, -0.13), (70, 0.15, -0.13), (75, 0.15, -0.13),
              (80, 0.15, -0.13), (85, 0.16, -0.14), (90, 0.15, -0.13), (96, 0.14, -0.12)]
S08_SUDOKU_SPIKES = [(35.4, 1.4), (35.6, -1.0), (38.6, 1.3), (38.9, -0.5), (1.9, 0.8), (2.6, -0.8), (5, 0.3),
                     (12, 0.28), (20, 0.25), (28, 0.25), (45, 0.25), (55, 0.22), (65, 0.25), (75, 0.22), (88, 0.25)]

S09_SUDOKU = [(0, 0.12, -0.05), (0.4, 0.1, -0.1), (2, 0.09, -0.07), (4, 0.1, -0.08), (6, 0.09, -0.07),
              (8, 0.1, -0.08), (10, 0.09, -0.07), (12, 0.1, -0.08), (14, 0.09, -0.07), (16, 0.1, -0.08),
              (18, 0.09, -0.07), (20, 0.1, -0.08), (22, 0.09, -0.07), (24, 0.1, -0.08), (26, 0.09, -0.07),
              (27.5, 0.12, -0.1), (28.5, 0.1, -0.08), (30, 0.09, -0.07), (32, 0.1, -0.08), (34, 0.09, -0.07),
              (36, 0.1, -0.08), (38, 0.09, -0.07), (40, 0.1, -0.08), (42, 0.09, -0.07), (43.5, 0.1, -0.08),
              (44.1, 0.3, 0.0), (44.4, 0.35, -0.1), (44.7, 0.1, -0.3), (45.2, 0.08, -0.15), (46, 0.1, -0.08),
              (48, 0.09, -0.07), (50, 0.1, -0.08), (52, 0.09, -0.07), (54, 0.1, -0.08), (56, 0.09, -0.07),
              (58, 0.1, -0.08), (60, 0.12, -0.09), (62, 0.1, -0.08), (64, 0.09, -0.07), (66, 0.1, -0.08),
              (68, 0.09, -0.07), (70, 0.1, -0.08), (72, 0.09, -0.07), (74, 0.1, -0.08), (76, 0.09, -0.07),
              (78, 0.1, -0.08), (80, 0.1, -0.07), (82, 0.1, -0.08), (83, 0.09, -0.07)]
S09_SUDOKU_SPIKES = [(0.3, 0.15), (3, 0.13), (10, 0.12), (15, 0.14), (20, 0.13), (26, 0.12), (27.8, 0.2),
                     (28, -0.12), (33, 0.13), (38, 0.12), (44.3, 0.38), (44.8, -0.32), (50, 0.12), (55, 0.13),
                     (59.8, 0.2), (60.2, -0.12), (65, 0.13), (70, 0.14), (75, 0.13), (80, 0.14), (82, 0.13),
                     (5, -0.1), (17, -0.11), (53, -0.1), (72, -0.11), (7.5, 0.13), (12.5, -0.1), (22.5, 0.13),
                     (31, -0.1), (35.5, 0.13), (41, -0.1), (47.5, 0.13), (57.5, -0.1), (62.5, 0.14), (67.5, -0.1),
                     (77.5, -0.1)]

S08_TEMPLE = [(0, 0.3, -0.05), (0.5, 0.15, -0.2), (1.5, 0.18, -0.15), (3, 0.2, -0.25), (4, 0.22, -0.15),
              (5, 0.16, -0.14), (7, 0.18, -0.12), (9, 0.15, -0.13), (11, 0.17, -0.12), (13, 0.15, -0.13),
              (15, 0.16, -0.12), (17, 0.15, -0.13), (19, 0.16, -0.12), (21, 0.15, -0.13), (23, 0.16, -0.12),
              (25, 0.17, -0.13), (27, 0.16, -0.12), (29, 0.17, -0.13), (31, 0.2, -0.15), (33, 0.24, -0.16),
              (35, 0.25, -0.17), (37, 0.24, -0.16), (39, 0.25, -0.16), (41, 0.24, -0.17), (43, 0.25, -0.16),
              (45, 0.24, -0.16), (47, 0.26, -0.17), (49, 0.25, -0.16), (51, 0.26, -0.17), (53, 0.25, -0.16),
              (55, 0.26, -0.17), (57, 0.25, -0.16), (59, 0.26, -0.17), (61, 0.25, -0.16), (63, 0.26, -0.17),
              (65, 0.25, -0.16), (67, 0.24, -0.17), (69, 0.25, -0.16), (71, 0.24, -0.16), (73, 0.25, -0.17),
              (75, 0.26, -0.16), (77, 0.28, -0.17), (79, 0.28, -0.16), (81, 0.28, -0.17), (83, 0.28, -0.16),
              (85, 0.27, -0.17), (87, 0.26, -0.16), (89, 0.25, -0.16), (91, 0.24, -0.16), (94, 0.24, -0.15)]
S08_TEMPLE_SPIKES = [(0.2, 0.3), (3.2, -0.3), (4.5, 0.3), (8, 0.28), (14, 0.25), (21, 0.25), (28, 0.25),
                     (33.5, 0.38), (36, 0.32), (40, 0.3), (44, 0.32), (48, 0.33), (52, 0.32), (56, 0.3), (60, 0.33),
                     (64, 0.32), (68, 0.3), (72, 0.32), (76, 0.33), (79, 0.37), (82, 0.36), (85, 0.34), (88, 0.32),
                     (92, 0.3), (34, -0.22), (45, -0.2), (55, -0.2), (62, -0.2), (70, -0.19), (85, -0.2)]

S09_TEMPLE = [(0, 0.25, -0.05), (0.3, 0.05, -0.2), (0.8, 0.15, -0.05), (1.5, 0.1, -0.07), (3, 0.08, -0.06),
              (6, 0.07, -0.05), (9, 0.08, -0.06), (12, 0.07, -0.05), (15, 0.08, -0.06), (18, 0.07, -0.05),
              (21, 0.08, -0.06), (24, 0.07, -0.05), (27, 0.08, -0.06), (28.5, 0.12, -0.06), (29.2, 0.06, -0.11),
              (30, 0.08, -0.06), (33, 0.07, -0.05), (36, 0.08, -0.06), (39, 0.07, -0.05), (42, 0.08, -0.06),
              (45, 0.07, -0.05), (48, 0.08, -0.06), (49.7, 0.16, -0.05), (50.3, 0.05, -0.12), (51, 0.08, -0.06),
              (54, 0.07, -0.05), (57, 0.08, -0.06), (60, 0.07, -0.05), (63, 0.08, -0.06), (66, 0.07, -0.05),
              (69, 0.08, -0.06), (72, 0.07, -0.05), (75, 0.08, -0.06), (78, 0.07, -0.05), (81, 0.08, -0.06),
              (84, 0.07, -0.05), (86, 0.08, -0.06), (88.5, 0.07, -0.05)]
S09_TEMPLE_SPIKES = [(1.2, 0.15), (5, 0.1), (10, 0.1), (15, 0.11), (20, 0.12), (25, 0.1), (28.5, 0.15), (33, 0.1),
                     (36, 0.11), (41, 0.1), (45, 0.11), (49.6, 0.18), (55, 0.1), (60, 0.11), (65, 0.1), (70, 0.1),
                     (75, 0.11), (80, 0.12), (83, 0.12), (29.2, -0.12), (50.2, -0.12), (0.4, -0.2), (12, -0.08),
                     (38, -0.08), (62, -0.08), (77, -0.08)]

S08_WORD = [(0, 0.15, -0.05), (0.5, 0.15, -0.12), (1.5, 0.2, -0.15), (2.5, 0.2, -0.15), (3.2, 0.5, -0.3),
            (3.8, 0.3, -0.5), (4.5, 0.25, -0.2), (6, 0.2, -0.15), (8, 0.18, -0.15), (10, 0.18, -0.15),
            (12, 0.18, -0.15), (14, 0.18, -0.15), (16, 0.18, -0.15), (18, 0.2, -0.15), (19.8, 0.2, -0.2),
            (20.5, 0.25, -0.25), (21.5, 0.35, -0.2), (22.3, 0.3, -0.3), (23, 0.15, -0.15), (24, 0.08, -0.08),
            (25, 0.03, -0.02), (30, 0.02, -0.01), (40, 0.02, -0.01), (50, 0.02, -0.01), (60, 0.02, -0.01),
            (70, 0.03, -0.02), (80, 0.02, -0.01), (87.5, 0.03, -0.02), (88.5, 0.1, -0.1), (90, 0.1, -0.12),
            (93, 0.1, -0.1), (96, 0.12, -0.1), (98, 0.12, -0.12), (99, 0.18, -0.05), (99.5, 0.1, -0.05)]
S08_WORD_SPIKES = [(3, 0.75), (3.6, -0.85), (20, -0.55), (21.6, 0.9), (22.4, -0.5), (23, 0.3)]

S09_WORD = [(0, 0.15, -0.05), (0.4, 0.12, -0.1), (2, 0.13, -0.09), (4, 0.12, -0.1), (6, 0.14, -0.09),
            (8, 0.12, -0.1), (10, 0.14, -0.09), (12, 0.13, -0.1), (14, 0.12, -0.09), (16, 0.14, -0.1),
            (18, 0.13, -0.09), (20, 0.14, -0.1), (22, 0.13, -0.09), (24, 0.15, -0.1), (26, 0.13, -0.09),
            (28, 0.14, -0.1), (30, 0.13, -0.09), (32, 0.14, -0.1), (34, 0.13, -0.09), (36, 0.14, -0.1),
            (38, 0.13, -0.09), (40, 0.14, -0.1), (42, 0.13, -0.09), (44, 0.14, -0.1), (46, 0.13, -0.09),
            (48, 0.15, -0.1), (50, 0.13, -0.09), (52, 0.14, -0.1), (54, 0.13, -0.09), (56, 0.14, -0.1),
            (58, 0.13, -0.09), (60, 0.14, -0.1), (62, 0.13, -0.09), (64, 0.14, -0.1), (66, 0.13, -0.09),
            (68, 0.14, -0.1), (70, 0.13, -0.09), (72, 0.14, -0.1), (74, 0.13, -0.09), (76, 0.15, -0.1),
            (78, 0.14, -0.12), (80, 0.13, -0.1), (82.7, 0.12, -0.09)]
S09_WORD_SPIKES = [(1, 0.2), (3, 0.22), (5, 0.2), (7.5, 0.22), (9, 0.2), (11, 0.25), (13, 0.3), (15, 0.22),
                   (17, 0.24), (19, 0.22), (20.5, 0.27), (22, 0.22), (23.6, 0.45), (25, 0.25), (27, 0.22),
                   (29, 0.24), (31, 0.22), (33, 0.25), (35, 0.22), (37, 0.28), (39, 0.22), (41, 0.25), (43, 0.22),
                   (45, 0.24), (47, 0.22), (49, 0.35), (51, 0.24), (53, 0.22), (55, 0.26), (57, 0.22), (59, 0.25),
                   (61, 0.22), (63, 0.24), (65, 0.3), (67, 0.22), (69, 0.25), (71, 0.22), (73, 0.25), (75, 0.24),
                   (76.3, 0.35), (78, 0.25), (79, 0.3), (81, 0.22), (81.5, -0.2), (14, -0.16), (28, -0.15),
                   (36, -0.16), (48, -0.15), (60, -0.16), (69, -0.15), (78.5, -0.18), (5, -0.13)]

# (title, envelope, spikes, x max, x tick step, y limit)
PANELS = [
    ("EMG - Subject 08 - blink", S08_BLINK, S08_BLINK_SPIKES, 45, 5, 0.2),
    ("EMG - Subject 09 - blink", S09_BLINK, S09_BLINK_SPIKES, 35, 5, 1),
    ("EMG - Subject 08 - eyescrunching", S08_EYES, S08_EYES_SPIKES, 45, 5, 2),
    ("EMG - Subject 09 - eyescrunching", S09_EYES, S09_EYES_SPIKES, 50, 10, 0.2),
    ("EMG - Subject 08 - flow", S08_FLOW, S08_FLOW_SPIKES, 100, 20, 2),
    ("EMG - Subject 09 - flow", S09_FLOW, S09_FLOW_SPIKES, 140, 20, 0.5),
    ("EMG - Subject 08 - jaw", S08_JAW, S08_JAW_SPIKES, 45, 5, 1),
    ("EMG - Subject 09 - jaw", S09_JAW, S09_JAW_SPIKES, 50, 10, 0.2),
    ("EMG - Subject 08 - lie relax", S08_LIE, S08_LIE_SPIKES, 40, 5, 1),
    ("EMG - Subject 09 - lie relax", S09_LIE, S09_LIE_SPIKES, 50, 10, 0.5),
    ("EMG - Subject 08 - raisingeyebrows", S08_BROWS, S08_BROWS_SPIKES, 50, 10, 0.1),
    ("EMG - Subject 09 - raisingeyebrows", S09_BROWS, S09_BROWS_SPIKES, 45, 5, 0.2),
    ("EMG - Subject 08 - readinglieing", S08_READLIE, S08_READLIE_SPIKES, 50, 10, 1),
    ("EMG - Subject 09 - readinglieing", S09_READLIE, S09_READLIE_SPIKES, 50, 10, 1),
    ("EMG - Subject 08 - readingsitting", S08_READSIT, S08_READSIT_SPIKES, 50, 10, 1),
    ("EMG - Subject 09 - readingsitting", S09_READSIT, S09_READSIT_SPIKES, 50, 10, 1),
    ("EMG - Subject 08 - sudoku", S08_SUDOKU, S08_SUDOKU_SPIKES, 100, 20, 2),
    ("EMG - Subject 09 - sudoku", S09_SUDOKU, S09_SUDOKU_SPIKES, 90, 10, 0.5),
    ("EMG - Subject 08 - templerun", S08_TEMPLE, S08_TEMPLE_SPIKES, 100, 20, 0.5),
    ("EMG - Subject 09 - templerun", S09_TEMPLE, S09_TEMPLE_SPIKES, 90, 10, 0.5),
    ("EMG - Subject 08 - wordsearch", S08_WORD, S08_WORD_SPIKES, 100, 20, 2),
    ("EMG - Subject 09 - wordsearch", S09_WORD, S09_WORD_SPIKES, 90, 10, 0.5),
]


def panel(title, band, spikes, xmax, xstep, ylim):
    band_df = pd.DataFrame(band, columns=["t", "hi", "lo"])
    spike_df = pd.DataFrame(spikes if spikes else [(0.0, 0.0)], columns=["t", "v"])

    xs = alt.Scale(domain=[0, xmax], nice=False, zero=False)
    ys = alt.Scale(domain=[-ylim, ylim], nice=False)
    x_axis = alt.Axis(values=list(range(0, xmax + 1, xstep)), title="Zaman (s)",
                      labelExpr="datum.value + ''", labelOverlap=False, labelFlush=False)
    y_axis = alt.Axis(values=[-ylim, 0, ylim], title="μV", labelExpr="datum.value + ''",
                      labelOverlap=False, labelFlush=False)

    box_top = alt.Chart(pd.DataFrame({"k": [0]})).mark_rule(
        color="#b4b4b4", strokeWidth=1
    ).encode(x=alt.value(0), x2=alt.value(PLOT_W), y=alt.value(0))

    area = alt.Chart(band_df).mark_area(
        color=BLUE, stroke=BLUE, strokeWidth=0.6, clip=True
    ).encode(
        x=alt.X("t:Q", scale=xs, axis=x_axis),
        y=alt.Y("hi:Q", scale=ys, axis=y_axis),
        y2="lo:Q",
    )

    spikes_layer = alt.Chart(spike_df).mark_rule(
        color=BLUE, strokeWidth=1, opacity=0.8, clip=True
    ).encode(
        x=alt.X("t:Q", scale=xs, axis=x_axis),
        y=alt.Y("v:Q", scale=ys, axis=y_axis),
        y2=alt.datum(0),
    )

    return alt.layer(box_top, area, spikes_layer).properties(
        width=PLOT_W,
        height=PLOT_H,
        title=alt.TitleParams(title, fontSize=15, fontWeight="bold", font="Liberation Sans",
                              color="#000000", offset=-4, frame="group", anchor="middle"),
    )


chart = alt.concat(
    *[panel(*p) for p in PANELS],
    columns=2,
    spacing={"row": 76.4, "column": 140},
    bounds="flush",
).properties(
    padding={"left": 11, "top": 5, "right": 5, "bottom": 5},
).configure(
    font="Liberation Sans",
).configure_view(
    stroke=None,
).configure_axis(
    labelFont="Liberation Sans",
    labelFontSize=13,
    labelColor="#262626",
    titleFont="Liberation Sans",
    titleFontSize=15,
    titleFontWeight="normal",
    titleColor="#262626",
    tickSize=0,
    grid=True,
    gridColor="#dedede",
    gridWidth=1,
).configure_axisX(
    domainColor="#333333",
    labelPadding=10,
    titlePadding=8,
).configure_axisY(
    domainColor="#d0d0d0",
    labelPadding=8,
    titlePadding=3,
    minExtent=36,
    maxExtent=36,
)

chart.save("out.html", embed_options={"renderer": "svg", "actions": False})
